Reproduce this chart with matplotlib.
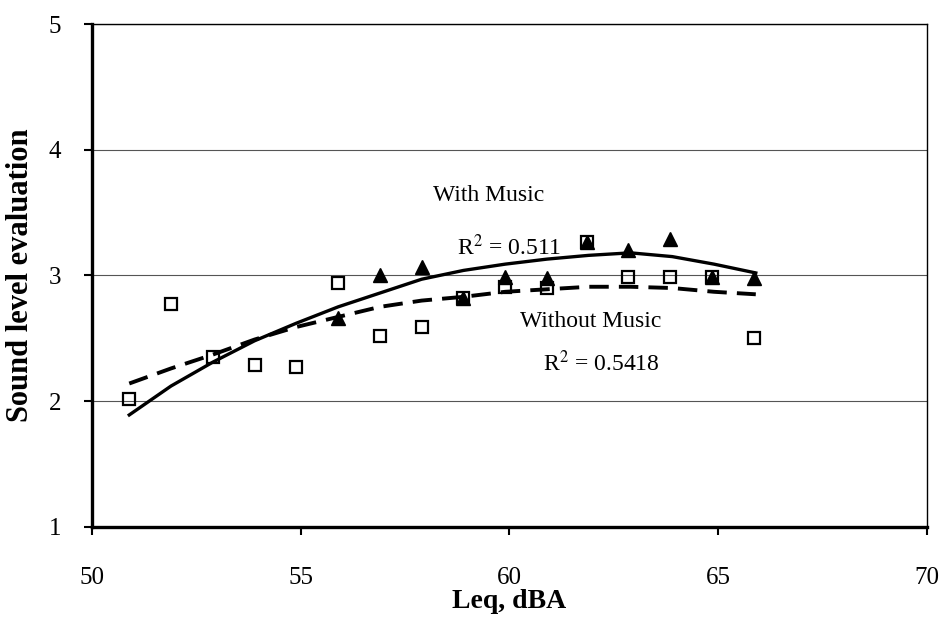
import numpy as np
import matplotlib.pyplot as plt

# Leq (dBA) positions of the markers
leq = [50.9, 51.9, 52.9, 53.9, 54.9, 55.9, 56.9, 57.9, 58.9, 59.9,
       60.9, 61.85, 62.85, 63.85, 64.85, 65.85]
without_music = [2.02, 2.77, 2.35, 2.29, 2.27, 2.94, 2.52, 2.59, 2.82, 2.91,
                 2.90, 3.27, 2.99, 2.99, 2.99, 2.50]

leq_with = [55.9, 56.9, 57.9, 58.9, 59.9, 60.9, 61.85, 62.85, 63.85, 64.85, 65.85]
with_music = [2.66, 3.00, 3.07, 2.82, 2.99, 2.98, 3.27, 3.20, 3.29, 2.99, 2.98]

# trendlines
trend_x = [50.9, 51.9, 52.9, 53.9, 54.9, 55.9, 56.9, 57.9, 58.9, 59.9,
           60.9, 61.9, 62.9, 63.9, 64.9, 65.9]
trend_with = [1.89, 2.12, 2.31, 2.48, 2.62, 2.75, 2.86, 2.97, 3.04, 3.09,
              3.13, 3.16, 3.18, 3.15, 3.09, 3.02]
trend_without = [2.14, 2.26, 2.37, 2.49, 2.59, 2.67, 2.75, 2.80, 2.83, 2.87,
                 2.89, 2.91, 2.91, 2.90, 2.87, 2.85]

plt.rcParams['font.family'] = 'Liberation Serif'
plt.rcParams['mathtext.fontset'] = 'stix'

fig = plt.figure(figsize=(9.45, 6.19), dpi=100)
ax = fig.add_axes([0.097, 0.149, 0.884, 0.812])

ax.grid(axis='y', color='#555555', linewidth=0.8, zorder=0)
ax.plot(trend_x, trend_with, '-', color='black', linewidth=2.4, zorder=3)
ax.plot(trend_x, trend_without, '--', color='black', linewidth=2.8,
        dashes=(5, 2.6), zorder=3)
ax.plot(leq_with, with_music, '^', color='black', markersize=9.5, zorder=4)
ax.plot(leq, without_music, 's', mfc='none', mec='black', mew=1.6,
        markersize=9, zorder=5)

ax.text(59.5, 3.64, 'With Music', fontsize=17, ha='center', va='center')
ax.text(60.0, 3.22, 'R$^2$ = 0.511', fontsize=17, ha='center', va='center')
ax.text(61.95, 2.63, 'Without Music', fontsize=17, ha='center', va='center')
ax.text(62.2, 2.30, 'R$^2$ = 0.5418', fontsize=17, ha='center', va='center')

ax.set_xlim(50, 70)
ax.set_ylim(1, 5)
ax.set_xticks([50, 55, 60, 65, 70])
ax.set_yticks([1, 2, 3, 4, 5])
ax.tick_params(labelsize=18, length=6, width=1.5, direction='out')
ax.tick_params(axis='x', pad=23)
ax.tick_params(axis='y', pad=16)

for side in ['left', 'bottom']:
    ax.spines[side].set_linewidth(2.4)
for side in ['top', 'right']:
    ax.spines[side].set_linewidth(1.0)

ax.set_xlabel('Leq, dBA', fontsize=20, fontweight='bold', labelpad=0)
ax.set_ylabel('Sound level evaluation', fontsize=22, fontweight='bold', labelpad=10)

plt.savefig('out.png', dpi=100)
